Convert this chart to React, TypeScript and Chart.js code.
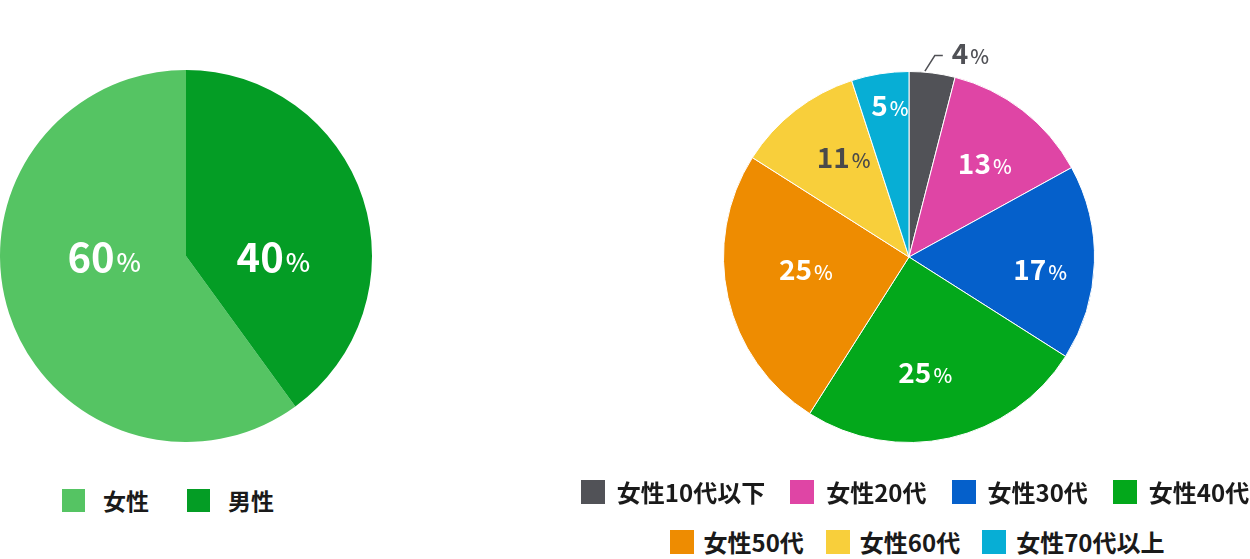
import React, { useEffect, useRef } from "react";
import { Chart, registerables } from "chart.js";

Chart.register(...registerables);

// ---------- data ----------
const genderLabels = ["女性", "男性"];
const genderValues = [60, 40];
const genderColors = ["#55C463", "#049D25"];

const ageLabels = ["女性10代以下", "女性20代", "女性30代", "女性40代", "女性50代", "女性60代", "女性70代以上"];
const ageValues = [4, 13, 17, 25, 25, 11, 5];
const ageColors = ["#515257", "#DF45A5", "#0560CB", "#03A81B", "#EE8C01", "#F8CF3B", "#07AED5"];

// ---------- styles ----------
const FONT = '"Noto Sans CJK JP", "Noto Sans", sans-serif';

const genderLabelStyle = {
  radius: [0.44, 0.47],
  angleOffset: [16.6, 19.3],
  numSize: 40,
  pctSize: 26,
  colors: ["#ffffff", "#ffffff"],
  callout: [false, false],
};

const ageLabelStyle = {
  radius: [1, 0.645, 0.71, 0.63, 0.56, 0.64, 0.82],
  angleOffset: [0, 1.5, 3.9, 4.6, 5.6, 4.4, 1.8],
  numSize: 28,
  pctSize: 20,
  colors: ["#505156", "#ffffff", "#ffffff", "#ffffff", "#ffffff", "#4A4A4A", "#ffffff"],
  callout: [true, false, false, false, false, false, false],
};

const deg = Math.PI / 180;

const sliceLabelPlugin = {
  id: "sliceLabels",
  afterDatasetsDraw(chart: any, _args: any, opts: any) {
    const ctx = chart.ctx;
    const meta = chart.getDatasetMeta(0);
    const values = chart.data.datasets[0].data;
    meta.data.forEach((arc: any, i: number) => {
      const p = arc.getProps(["x", "y", "startAngle", "endAngle", "outerRadius"], true);
      const mid = (p.startAngle + p.endAngle) / 2;
      const num = String(values[i]);
      const pct = "%";
      ctx.save();
      ctx.font = `700 ${opts.numSize}px ${FONT}`;
      const w1 = ctx.measureText(num).width;
      ctx.font = `500 ${opts.pctSize}px ${FONT}`;
      const w2 = ctx.measureText(pct).width;
      const gap = 2;
      const total = w1 + gap + w2;
      let left: number;
      let cy: number;
      if (opts.callout[i]) {
        const a0 = mid - 2.3 * deg;
        const sx = p.x + Math.cos(a0) * (p.outerRadius + 1);
        const sy = p.y + Math.sin(a0) * (p.outerRadius + 1);
        const a1 = mid + 0.1 * deg;
        const ex = p.x + Math.cos(a1) * p.outerRadius * 1.095;
        const ey = p.y + Math.sin(a1) * p.outerRadius * 1.095;
        ctx.strokeStyle = opts.colors[i];
        ctx.lineWidth = 1.5;
        ctx.beginPath();
        ctx.moveTo(sx, sy);
        ctx.lineTo(ex, ey);
        ctx.lineTo(ex + 8, ey);
        ctx.stroke();
        left = ex + 17;
        cy = ey - 2;
      } else {
        const a = mid + opts.angleOffset[i] * deg;
        const r = p.outerRadius * opts.radius[i];
        const cx = p.x + Math.cos(a) * r;
        cy = p.y + Math.sin(a) * r;
        left = cx - total / 2;
      }
      const baseline = cy + opts.numSize * 0.36;
      ctx.fillStyle = opts.colors[i];
      ctx.textAlign = "left";
      ctx.textBaseline = "alphabetic";
      ctx.font = `700 ${opts.numSize}px ${FONT}`;
      ctx.fillText(num, left, baseline);
      ctx.font = `500 ${opts.pctSize}px ${FONT}`;
      ctx.fillText(pct, left + w1 + gap, baseline);
      ctx.restore();
    });
  },
};

function PieCanvas(props: {
  labels: string[];
  values: number[];
  colors: string[];
  borderWidth: number;
  rotation: number;
  labelStyle: any;
  padding: any;
  style: React.CSSProperties;
}) {
  const ref = useRef<HTMLCanvasElement | null>(null);
  useEffect(() => {
    if (!ref.current) return;
    const chart = new Chart(ref.current, {
      type: "pie",
      data: {
        labels: props.labels,
        datasets: [
          {
            data: props.values,
            backgroundColor: props.colors,
            borderColor: "#ffffff",
            borderWidth: props.borderWidth,
            hoverOffset: 0,
          },
        ],
      },
      options: {
        animation: false,
        responsive: false,
        maintainAspectRatio: false,
        rotation: props.rotation,
        layout: { padding: props.padding },
        plugins: {
          legend: { display: false },
          tooltip: { enabled: false },
          // @ts-ignore
          sliceLabels: props.labelStyle,
        },
      },
      plugins: [sliceLabelPlugin as any],
    });
    return () => chart.destroy();
  }, []);
  const w = props.style.width as number;
  const h = props.style.height as number;
  return <canvas ref={ref} width={w} height={h} style={{ position: "absolute", ...props.style }} />;
}

function LegendItem(props: { color: string; label: string; gap: number; size: number; font: number }) {
  return (
    <div style={{ display: "flex", alignItems: "center", whiteSpace: "nowrap" }}>
      <div style={{ width: props.size, height: props.size, background: props.color, marginRight: props.gap }} />
      <span style={{ fontFamily: FONT, fontWeight: 700, fontSize: props.font, color: "#1a1a1a", lineHeight: 1 }}>
        {props.label}
      </span>
    </div>
  );
}

export default function App() {
  const row1 = [0, 1, 2, 3];
  const row2 = [4, 5, 6];
  const genderTotal = genderValues.reduce((a, b) => a + b, 0);
  // 女性 slice is drawn ending at the top, so 男性 fills the right-hand side
  const genderRotation = (genderValues[1] / genderTotal) * 360;
  return (
    <div style={{ position: "fixed", left: 0, top: 0, width: 1250, height: 559, background: "#ffffff", overflow: "hidden" }}>
      <PieCanvas
        labels={genderLabels}
        values={genderValues}
        colors={genderColors}
        borderWidth={0}
        rotation={genderRotation}
        labelStyle={genderLabelStyle}
        padding={0}
        style={{ left: 0, top: 70, width: 372, height: 372 }}
      />
      <PieCanvas
        labels={ageLabels}
        values={ageValues}
        colors={ageColors}
        borderWidth={1}
        rotation={0}
        labelStyle={ageLabelStyle}
        padding={{ left: 100, right: 100, top: 50, bottom: 50 }}
        style={{ left: 623, top: 21, width: 572, height: 472 }}
      />
      <div style={{ position: "absolute", left: 62, top: 489, display: "flex", gap: 38 }}>
        {genderLabels.map((l, i) => (
          <LegendItem key={l} color={genderColors[i]} label={l} gap={18} size={23} font={23} />
        ))}
      </div>
      <div style={{ position: "absolute", left: 565, width: 700, top: 480, display: "flex", justifyContent: "center", gap: 25 }}>
        {row1.map((i) => (
          <LegendItem key={i} color={ageColors[i]} label={ageLabels[i]} gap={12} size={24} font={24} />
        ))}
      </div>
      <div style={{ position: "absolute", left: 567, width: 700, top: 530, display: "flex", justifyContent: "center", gap: 22 }}>
        {row2.map((i) => (
          <LegendItem key={i} color={ageColors[i]} label={ageLabels[i]} gap={10} size={24} font={24} />
        ))}
      </div>
    </div>
  );
}
